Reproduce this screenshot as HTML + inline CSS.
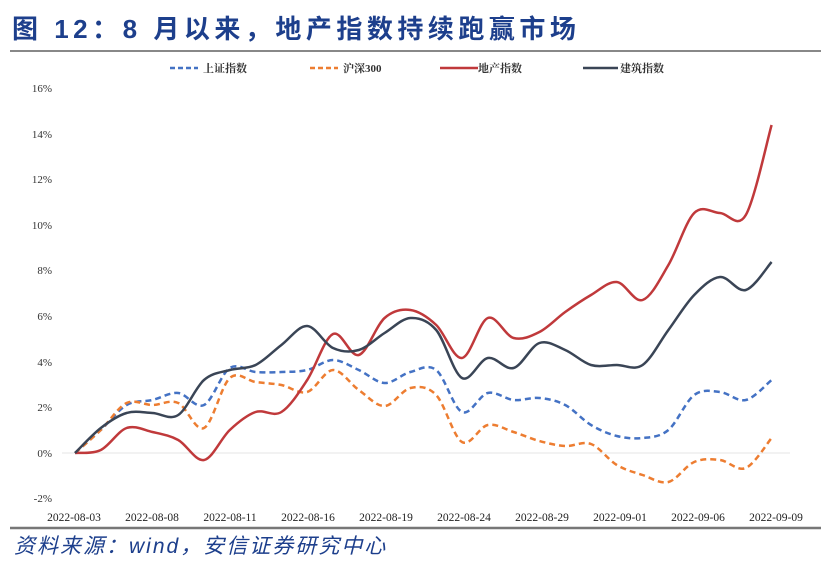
<!DOCTYPE html>
<html><head><meta charset="utf-8"><style>
body{margin:0;background:#fff;width:831px;height:567px;overflow:hidden;font-family:"Liberation Serif","Noto Serif CJK SC",serif}
</style></head><body>
<svg width="831" height="567" viewBox="0 0 831 567" xmlns="http://www.w3.org/2000/svg">
<text x="12" y="38" font-family="Liberation Sans,'Noto Sans CJK SC',sans-serif" font-weight="bold" font-size="26" letter-spacing="4.5" fill="#1d3f8c">图 12：8 月以来，地产指数持续跑赢市场</text>
<line x1="10" y1="51" x2="821" y2="51" stroke="#888" stroke-width="2"/>
<g font-size="11" fill="#333" font-weight="bold">
<line x1="170" y1="68" x2="198" y2="68" stroke="#4472c4" stroke-width="2.5" stroke-dasharray="5,3"/><text x="203" y="72">上证指数</text>
<line x1="310" y1="68" x2="338" y2="68" stroke="#ed7d31" stroke-width="2.5" stroke-dasharray="5,3"/><text x="343" y="72">沪深300</text>
<line x1="440" y1="68" x2="478" y2="68" stroke="#c0393b" stroke-width="2.5"/><text x="478" y="72">地产指数</text>
<line x1="583" y1="68" x2="618" y2="68" stroke="#3a4556" stroke-width="2.5"/><text x="620" y="72">建筑指数</text>
</g>
<g font-size="11" fill="#333" text-anchor="end">
<text x="52" y="92">16%</text><text x="52" y="138">14%</text><text x="52" y="183">12%</text><text x="52" y="229">10%</text><text x="52" y="274">8%</text><text x="52" y="320">6%</text><text x="52" y="366">4%</text><text x="52" y="411">2%</text><text x="52" y="457">0%</text><text x="52" y="502">-2%</text>
</g>
<line x1="62" y1="453" x2="790" y2="453" stroke="#e6e6e6"/>
<g font-size="11.5" fill="#222" text-anchor="middle">
<text x="74" y="521">2022-08-03</text><text x="152" y="521">2022-08-08</text><text x="230" y="521">2022-08-11</text><text x="308" y="521">2022-08-16</text><text x="386" y="521">2022-08-19</text><text x="464" y="521">2022-08-24</text><text x="542" y="521">2022-08-29</text><text x="620" y="521">2022-09-01</text><text x="698" y="521">2022-09-06</text><text x="776" y="521">2022-09-09</text>
</g>
<line x1="10" y1="528" x2="821" y2="528" stroke="#777" stroke-width="2.5"/>
<text x="14" y="553" font-size="21" letter-spacing="2" font-style="italic" fill="#1d3f8c" font-family="Liberation Sans,'Noto Sans CJK SC',sans-serif">资料来源：wind，安信证券研究中心</text>
<g id="s" fill="none" stroke-width="2.5" stroke-linejoin="round"></g>
</svg>
<script>
var blue=[453,430,405,400,393,405,368,372,372,370,360,370,383,372,370,412,393,400,398,405,425,436,438,430,395,392,400,380];
var orange=[453,430,403,405,403,428,378,382,385,392,370,390,406,388,395,442,425,432,441,446,444,465,475,482,462,460,468,438];
var red=[453,450,428,432,440,460,430,412,412,380,334,355,318,310,325,358,318,338,332,312,295,282,300,265,213,213,215,125];
var dark=[453,428,413,413,415,380,370,365,345,326,348,350,333,318,330,378,358,368,343,350,365,365,365,330,295,277,290,262];
function path(a){var p=a.map(function(y,i){return [75+i*25.8,y]});var d="M"+p[0][0]+","+p[0][1];
for(var i=0;i<p.length-1;i++){var p0=p[Math.max(i-1,0)],p1=p[i],p2=p[i+1],p3=p[Math.min(i+2,p.length-1)];
d+=" C"+(p1[0]+(p2[0]-p0[0])/6)+","+(p1[1]+(p2[1]-p0[1])/6)+" "+(p2[0]-(p3[0]-p1[0])/6)+","+(p2[1]-(p3[1]-p1[1])/6)+" "+p2[0]+","+p2[1];}return d;}
var g=document.getElementById("s");
[[blue,"#4472c4",1],[orange,"#ed7d31",1],[red,"#c0393b",0],[dark,"#3a4556",0]].forEach(function(s){
var e=document.createElementNS("http://www.w3.org/2000/svg","path");e.setAttribute("d",path(s[0]));e.setAttribute("stroke",s[1]);
if(s[2])e.setAttribute("stroke-dasharray","6,4");g.appendChild(e);});
</script>
</body></html>
